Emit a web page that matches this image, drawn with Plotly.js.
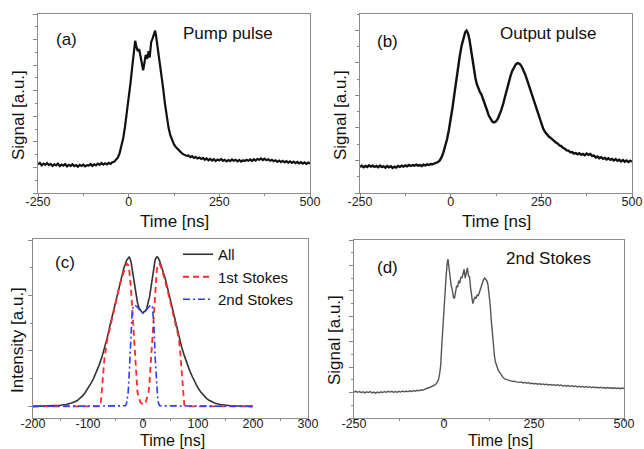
<!DOCTYPE html>
<html>
<head>
<meta charset="utf-8">
<script src="https://cdn.plot.ly/plotly-3.0.1.min.js"></script>
<style>
  html, body { margin: 0; padding: 0; background: #fff; }
  #chart { width: 644px; height: 449px; }
</style>
</head>
<body>
<div id="chart"></div>
<script>
// ---------------- DATA ----------------
// (a) Pump pulse
const timeA = [-250,-245,-240,-235,-230,-225,-220,-215,-210,-205,-200,-195,-190,-185,-180,-175,-170,-165,-160,-155,-150,-145,-140,-135,-130,-125,-120,-115,-110,-105,-100,-95,-90,-85,-80,-75,-70,-65,-60,-55,-50,-45,-40,-35,-30,-25,-20,-15,-10,-5,0,5,10,15,18,21,25,29,33,37,40,43,47,51,55,58,62,66,70,73,76,80,85,90,95,100,105,110,115,120,125,130,135,140,145,150,155,160,165,170,175,180,185,190,195,200,205,210,215,220,225,230,235,240,245,250,255,260,265,270,275,280,285,290,295,300,305,310,315,320,325,330,335,340,345,350,355,360,365,370,375,380,385,390,395,400,405,410,415,420,425,430,435,440,445,450,455,460,465,470,475,480,485,490,495,500];
const signalA = [1.12,1.18,1.08,1.15,1.10,1.17,1.09,1.14,1.06,1.12,1.08,1.15,1.05,1.11,1.07,1.13,1.04,1.10,1.06,1.12,1.05,1.09,1.03,1.10,1.06,1.11,1.04,1.09,1.07,1.13,1.06,1.12,1.08,1.15,1.10,1.17,1.11,1.16,1.12,1.18,1.14,1.20,1.22,1.30,1.38,1.55,1.80,2.15,2.60,3.10,3.60,4.30,4.95,5.55,5.95,5.75,5.55,5.62,5.30,5.10,4.80,5.05,5.40,5.25,5.55,5.30,5.90,6.05,6.20,6.35,6.10,5.70,5.25,4.70,4.10,3.50,2.95,2.55,2.25,2.05,1.90,1.80,1.72,1.62,1.58,1.52,1.50,1.45,1.47,1.40,1.44,1.37,1.41,1.35,1.39,1.33,1.37,1.30,1.35,1.28,1.33,1.27,1.32,1.25,1.31,1.27,1.33,1.26,1.30,1.24,1.29,1.25,1.31,1.26,1.30,1.24,1.29,1.23,1.28,1.25,1.30,1.26,1.31,1.25,1.32,1.27,1.33,1.30,1.35,1.29,1.34,1.28,1.32,1.26,1.30,1.24,1.28,1.22,1.27,1.21,1.26,1.20,1.25,1.19,1.24,1.18,1.23,1.17,1.22,1.16,1.21,1.15,1.20,1.14,1.19,1.15];

// (b) Output pulse
const timeB = [-250,-245,-240,-235,-230,-225,-220,-215,-210,-205,-200,-195,-190,-185,-180,-175,-170,-165,-160,-155,-150,-145,-140,-135,-130,-125,-120,-115,-110,-105,-100,-95,-90,-85,-80,-75,-70,-65,-60,-55,-50,-45,-40,-35,-30,-25,-20,-15,-10,-5,0,5,10,15,20,25,30,35,40,44,48,52,56,60,64,68,72,76,80,85,90,95,100,105,110,115,120,125,130,135,140,145,150,155,160,165,170,175,180,185,190,195,200,205,210,215,220,225,230,235,240,245,250,255,260,265,270,275,280,285,290,295,300,305,310,315,320,325,330,335,340,345,350,355,360,365,370,375,380,385,390,395,400,405,410,415,420,425,430,435,440,445,450,455,460,465,470,475,480,485,490,495,500];
const signalB = [0.80,0.84,0.79,0.83,0.80,0.85,0.81,0.84,0.80,0.83,0.79,0.84,0.80,0.82,0.78,0.83,0.79,0.82,0.77,0.81,0.78,0.83,0.80,0.84,0.81,0.85,0.82,0.86,0.83,0.86,0.84,0.87,0.84,0.86,0.83,0.87,0.85,0.88,0.86,0.89,0.88,0.90,0.92,0.95,1.00,1.10,1.25,1.42,1.65,1.93,2.24,2.62,3.02,3.45,3.85,4.20,4.52,4.78,4.94,4.99,4.90,4.70,4.40,4.05,3.78,3.55,3.35,3.22,3.12,3.02,2.88,2.72,2.55,2.38,2.26,2.19,2.17,2.20,2.28,2.40,2.56,2.75,2.98,3.20,3.40,3.60,3.76,3.88,3.96,3.99,3.97,3.90,3.80,3.66,3.50,3.33,3.15,2.96,2.78,2.62,2.45,2.28,2.12,1.98,1.88,1.80,1.74,1.70,1.64,1.60,1.55,1.52,1.46,1.44,1.38,1.36,1.31,1.30,1.25,1.26,1.21,1.23,1.19,1.22,1.17,1.20,1.16,1.21,1.17,1.20,1.14,1.15,1.09,1.12,1.07,1.10,1.05,1.08,1.03,1.07,1.02,1.05,1.00,1.04,0.99,1.02,0.97,1.01,0.96,1.00,0.95,0.99,0.97];

// (c) Simulated intensity
const timeAll = [-200,-180,-160,-150,-140,-130,-120,-115,-110,-105,-100,-95,-90,-85,-80,-75,-70,-65,-60,-55,-50,-45,-40,-35,-30,-27,-25,-22,-20,-17,-15,-12,-10,-7,-5,-2,0,2,5,7,10,12,15,17,20,22,25,27,30,35,40,45,50,55,60,65,70,75,80,85,90,95,100,105,110,115,120,130,140,150,160,180,200];
const intensityAll = [0,0.003,0.01,0.02,0.035,0.06,0.10,0.14,0.19,0.25,0.32,0.41,0.50,0.61,0.74,0.88,1.04,1.24,1.46,1.67,1.89,2.10,2.31,2.49,2.63,2.69,2.70,2.62,2.50,2.30,2.15,1.97,1.87,1.77,1.73,1.70,1.69,1.70,1.73,1.78,1.88,1.98,2.18,2.33,2.53,2.64,2.70,2.69,2.63,2.49,2.32,2.12,1.91,1.70,1.49,1.28,1.08,0.92,0.77,0.64,0.53,0.42,0.33,0.26,0.20,0.15,0.11,0.06,0.035,0.02,0.01,0.003,0];
const time1st = [-200,-80,-77,-75,-72,-70,-65,-60,-55,-50,-45,-40,-35,-30,-27,-25,-22,-20,-17,-15,-12,-10,-5,0,5,10,12,15,17,20,22,25,27,30,35,40,45,50,55,60,65,68,70,72,75,80,200];
const intensity1st = [0,0,0.02,0.25,0.65,0.88,1.20,1.43,1.65,1.86,2.07,2.27,2.45,2.58,2.55,2.45,2.15,1.85,1.30,0.90,0.45,0.25,0.08,0.03,0.08,0.25,0.45,0.90,1.30,1.85,2.15,2.45,2.55,2.58,2.45,2.28,2.08,1.87,1.66,1.45,1.24,0.95,0.65,0.30,0.03,0,0];
const time2nd = [-200,-35,-32,-30,-27,-25,-22,-20,-18,-15,-10,-5,0,5,10,15,17,20,22,25,27,30,200];
const intensity2nd = [0,0,0.01,0.05,0.25,0.60,1.25,1.65,1.80,1.83,1.79,1.72,1.68,1.72,1.79,1.83,1.80,1.45,0.90,0.35,0.10,0.01,0];
const legendNames = ['All','1st Stokes','2nd Stokes'];

// (d) Measured 2nd Stokes
const timeD = [-250,-245,-240,-235,-230,-225,-220,-215,-210,-205,-200,-195,-190,-185,-180,-175,-170,-165,-160,-155,-150,-145,-140,-135,-130,-125,-120,-115,-110,-105,-100,-95,-90,-85,-80,-75,-70,-65,-60,-55,-50,-45,-40,-35,-30,-25,-20,-15,-12,-9,-6,-3,0,3,6,9,11,14,17,20,23,26,29,32,35,38,41,44,47,50,53,56,59,62,65,68,71,74,77,80,83,86,89,92,95,98,101,104,107,110,113,116,119,122,125,128,131,134,137,140,143,146,150,155,160,165,170,175,180,185,190,195,200,210,215,220,225,230,235,240,245,250,255,260,265,270,275,280,285,290,295,300,305,310,315,320,325,330,335,340,345,350,355,360,365,370,375,380,385,390,395,400,405,410,415,420,425,430,435,440,445,450,455,460,465,470,475,480,485,490,495,500];
const signalD = [1.02,1.05,1.01,1.04,1.00,1.03,0.99,1.03,1.00,1.04,0.99,1.02,0.98,1.02,0.99,1.03,1.00,1.04,1.01,1.05,1.02,1.05,1.01,1.04,1.01,1.05,1.02,1.06,1.03,1.06,1.03,1.07,1.04,1.08,1.05,1.09,1.07,1.10,1.09,1.13,1.14,1.18,1.20,1.24,1.27,1.30,1.38,1.52,1.75,2.10,2.90,3.70,4.30,5.00,5.60,6.10,6.25,5.90,5.50,5.20,5.05,4.75,4.70,5.05,5.20,5.15,5.40,5.30,5.55,5.50,5.65,5.85,5.50,5.70,5.90,5.60,5.55,5.10,4.70,4.50,4.65,4.75,4.70,4.85,4.80,4.95,5.00,5.25,5.40,5.45,5.50,5.45,5.40,5.25,4.95,4.50,3.90,3.30,2.80,2.45,2.20,2.05,1.90,1.78,1.66,1.58,1.53,1.50,1.47,1.46,1.44,1.45,1.42,1.40,1.42,1.38,1.40,1.37,1.39,1.35,1.37,1.34,1.36,1.33,1.35,1.32,1.34,1.31,1.33,1.30,1.32,1.29,1.31,1.28,1.31,1.27,1.30,1.26,1.28,1.25,1.28,1.24,1.27,1.23,1.26,1.22,1.25,1.22,1.24,1.21,1.24,1.20,1.23,1.19,1.22,1.19,1.21,1.18,1.21,1.18,1.20,1.17,1.20,1.17,1.19,1.16,1.19,1.16,1.18,1.15,1.18,1.16];

// Axis tick labels
const timeTicks = [-250, 0, 250, 500];
const timeTicksC = [-200, -100, 0, 100, 200, 300];

// ---------------- STYLE / LAYOUT ----------------
const W = 644, H = 449;
const FONT = 'Liberation Sans, Arial, sans-serif';
const px = v => v / W;
const py = v => 1 - v / H;

const traces = [
  {x: timeA, y: signalA, xaxis: 'x', yaxis: 'y', mode: 'lines', showlegend: false,
   line: {color: '#111', width: 2.2}},
  {x: timeB, y: signalB, xaxis: 'x2', yaxis: 'y2', mode: 'lines', showlegend: false,
   line: {color: '#111', width: 2.4}},
  {x: timeAll, y: intensityAll, xaxis: 'x3', yaxis: 'y3', mode: 'lines', name: legendNames[0],
   line: {color: '#333', width: 1.6}},
  {x: time1st, y: intensity1st, xaxis: 'x3', yaxis: 'y3', mode: 'lines', name: legendNames[1],
   line: {color: '#ff2a2a', width: 1.8, dash: '6px,4px'}},
  {x: time2nd, y: intensity2nd, xaxis: 'x3', yaxis: 'y3', mode: 'lines', name: legendNames[2],
   line: {color: '#2b3cff', width: 1.6, dash: '7px,3px,2px,3px'}},
  {x: timeD, y: signalD, xaxis: 'x4', yaxis: 'y4', mode: 'lines', showlegend: false,
   line: {color: '#555', width: 1.4}}
];

function xAxis(domain, range, tickvals, minorD, anchor, standoff) {
  return {
    domain: domain, range: range, anchor: anchor,
    tickvals: tickvals, ticktext: tickvals.map(String),
    ticks: 'outside', ticklen: 3, tickwidth: 1, tickcolor: '#888',
    ticklabelstandoff: standoff,
    minor: {ticks: 'outside', ticklen: 2, dtick: minorD, tick0: 0, tickcolor: '#888'},
    showline: true, mirror: true, linecolor: '#8c8c8c', linewidth: 1.2,
    showgrid: false, zeroline: false,
    tickfont: {family: FONT, size: 12.5, color: '#222'}
  };
}
function yAxis(domain, range, anchor) {
  return {
    domain: domain, range: range, anchor: anchor,
    dtick: 1, tick0: 0, showticklabels: false,
    ticks: 'outside', ticklen: 4, tickwidth: 1, tickcolor: '#888',
    minor: {ticks: 'outside', ticklen: 2, dtick: 0.5, tick0: 0, tickcolor: '#888'},
    showline: true, mirror: true, linecolor: '#8c8c8c', linewidth: 1.2,
    showgrid: false, zeroline: false
  };
}

function ann(text, x, y, size, angle) {
  return {text: text, x: px(x), y: py(y), xref: 'paper', yref: 'paper',
    showarrow: false, xanchor: 'center', yanchor: 'middle', textangle: angle || 0,
    font: {family: FONT, size: size, color: '#111'}};
}

const layout = {
  width: W, height: H,
  margin: {l: 0, r: 0, t: 0, b: 0},
  paper_bgcolor: '#fff', plot_bgcolor: '#fff',
  font: {family: FONT, color: '#111'},
  xaxis:  xAxis([px(38), px(310)], [-250, 500], timeTicks, 125, 'y', -6),
  yaxis:  yAxis([py(193), py(14)], [0, 7], 'x'),
  xaxis2: xAxis([px(360), px(632)], [-250, 500], timeTicks, 125, 'y2', -6),
  yaxis2: yAxis([py(193), py(14)], [0, 5.5], 'x2'),
  xaxis3: xAxis([px(33), px(308)], [-200, 300], timeTicksC, 50, 'y3', -9),
  yaxis3: yAxis([py(418), py(239)], [-0.21, 3.02], 'x3'),
  xaxis4: xAxis([px(354), px(624)], [-250, 500], timeTicks, 125, 'y4', -9),
  yaxis4: yAxis([py(418), py(240)], [0, 7], 'x4'),
  showlegend: true,
  legend: {x: px(178), y: py(238), xanchor: 'left', yanchor: 'top',
    bgcolor: 'rgba(0,0,0,0)', borderwidth: 0, tracegroupgap: 0,
    font: {family: FONT, size: 15, color: '#111'}},
  annotations: [
    ann('(a)', 66, 40, 17), ann('Pump pulse', 228, 34, 17),
    ann('(b)', 387, 41, 17), ann('Output pulse', 548, 33, 17),
    ann('(c)', 65, 262, 17),
    ann('(d)', 387, 267, 17), ann('2nd Stokes', 548, 258, 17),
    ann('Signal [a.u.]', 18, 115, 17, -90),
    ann('Signal [a.u.]', 340, 115, 17, -90),
    ann('Intensity [a.u.]', 17, 340, 17, -90),
    ann('Signal [a.u.]', 334, 340, 17, -90),
    ann('Time [ns]', 174, 221, 17),
    ann('Time [ns]', 496, 221, 17),
    ann('Time [ns]', 172, 440, 16),
    ann('Time [ns]', 500, 440, 16)
  ]
};

Plotly.newPlot('chart', traces, layout, {staticPlot: true, displayModeBar: false});
</script>
</body>
</html>
